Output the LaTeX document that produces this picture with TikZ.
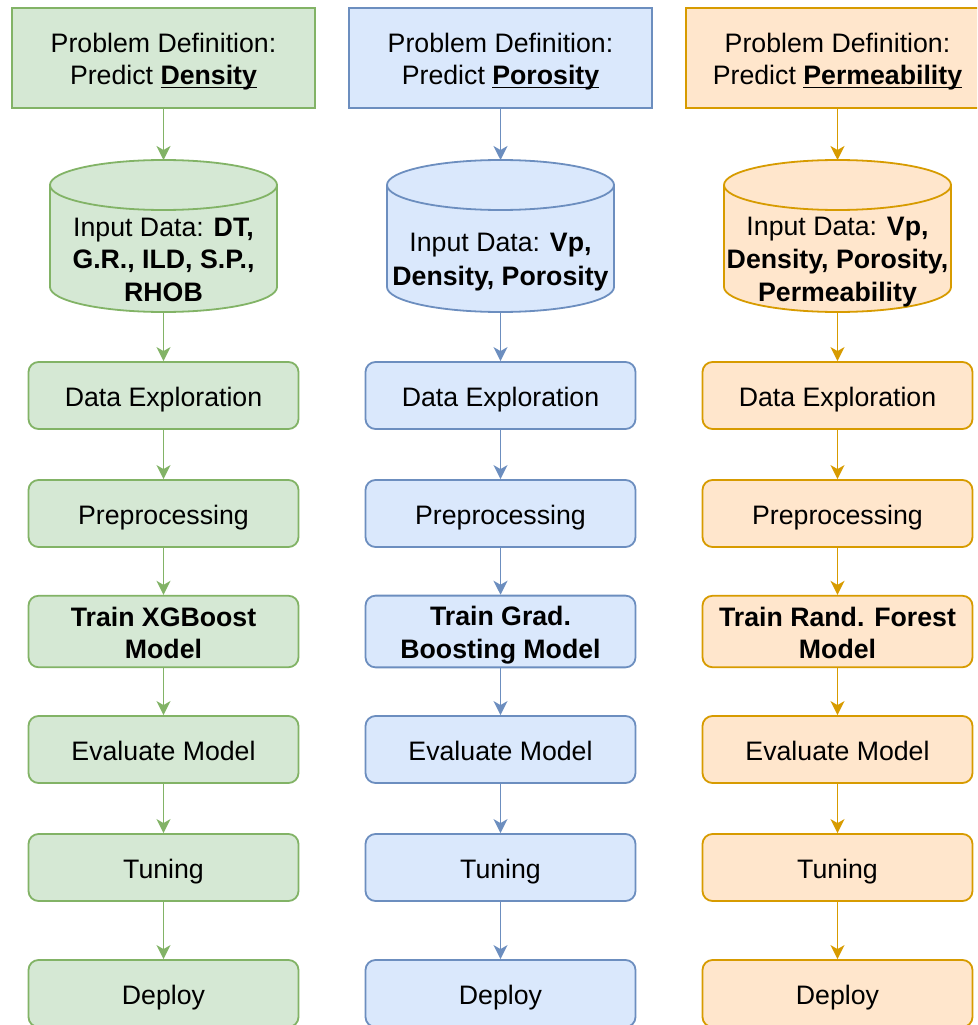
\documentclass[tikz,border=0pt]{standalone}
\usepackage{fontspec}
\setmainfont{Liberation Sans}
\usepackage{tikz}
\usetikzlibrary{arrows.meta, positioning}

\definecolor{densFill}{HTML}{D5E8D4}
\definecolor{densLine}{HTML}{82B366}
\definecolor{poroFill}{HTML}{DAE8FC}
\definecolor{poroLine}{HTML}{6C8EBF}
\definecolor{permFill}{HTML}{FFE6CC}
\definecolor{permLine}{HTML}{D79B00}

\newcommand{\undl}[1]{\setbox0\hbox{#1}\rlap{\rule[-3.5pt]{\wd0}{1.8pt}}\box0}
\newcommand{\lstrut}{\rule[-5.4pt]{0pt}{32.4pt}}

\tikzstyle{arrow} = [line width=1.8pt, -{Stealth[length=14pt, width=14pt, inset=4pt]}]
\tikzstyle{txt} = [align=center, font=\fontsize{26.7}{32.4}\selectfont, execute at begin node=\lstrut, execute at end node=\lstrut]
\tikzstyle{problem} = [txt, rectangle, minimum width=303pt, minimum height=100pt, line width=1.8pt]
\tikzstyle{database} = [rectangle, minimum width=227pt, minimum height=152pt, inner sep=0pt, outer sep=0pt]
\tikzstyle{drum} = [line width=1.8pt, x radius=113.5pt, y radius=25pt]
\tikzstyle{stepbox} = [txt, rectangle, rounded corners=10pt, minimum width=270pt, minimum height=67pt, line width=1.8pt]
\tikzstyle{dens} = [draw=densLine, fill=densFill]
\tikzstyle{poro} = [draw=poroLine, fill=poroFill]
\tikzstyle{perm} = [draw=permLine, fill=permFill]

\begin{document}
\begin{tikzpicture}[node distance=118pt]

\useasboundingbox (0,0) rectangle (977pt,-1025pt);
\clip (0,0) rectangle (977pt,-1025pt);

% Density column:
\node(densProb)[problem, dens] at (163.5pt,-58pt)
{\lstrut Problem Definition:\\Predict \undl{\textbf{Density}}\lstrut};
\node(densData)[database, below of=densProb, node distance=178pt] {};
\draw[drum, dens] ([yshift=-25pt]densData.north west) arc[start angle=180, end angle=0]
  -- ([yshift=25pt]densData.south east) arc[start angle=0, end angle=-180] -- cycle;
\draw[drum, densLine] ([yshift=-25pt]densData.north west) arc[start angle=180, end angle=360];
\node(densDataTxt)[txt] at ([yshift=-22pt]densData.center)
{\lstrut Input Data: \textbf{DT,}\\\textbf{G.R., ILD, S.P.,}\\\textbf{RHOB}\lstrut};
\node(densExplore)[stepbox, dens, below of=densData, node distance=159.5pt] {Data Exploration};
\node(densPrep)[stepbox, dens, below of=densExplore] {Preprocessing};
\node(densTrain)[stepbox, dens, below of=densPrep] {\lstrut\textbf{Train XGBoost}\\\textbf{Model}\lstrut};
\node(densEval)[stepbox, dens, below of=densTrain] {Evaluate Model};
\node(densTune)[stepbox, dens, below of=densEval] {Tuning};
\node(densDeploy)[stepbox, dens, below of=densTune, node distance=126pt] {Deploy};

% Porosity column:
\node(poroProb)[problem, poro, right of=densProb, node distance=337pt]
{\lstrut Problem Definition:\\Predict \undl{\textbf{Porosity}}\lstrut};
\node(poroData)[database, below of=poroProb, node distance=178pt] {};
\draw[drum, poro] ([yshift=-25pt]poroData.north west) arc[start angle=180, end angle=0]
  -- ([yshift=25pt]poroData.south east) arc[start angle=0, end angle=-180] -- cycle;
\draw[drum, poroLine] ([yshift=-25pt]poroData.north west) arc[start angle=180, end angle=360];
\node(poroDataTxt)[txt] at ([yshift=-22pt]poroData.center)
{\lstrut Input Data: \textbf{Vp,}\\\textbf{Density, Porosity}\lstrut};
\node(poroExplore)[stepbox, poro, below of=poroData, node distance=159.5pt] {Data Exploration};
\node(poroPrep)[stepbox, poro, below of=poroExplore] {Preprocessing};
\node(poroTrain)[stepbox, poro, below of=poroPrep] {\lstrut\textbf{Train Grad.}\\\textbf{Boosting Model}\lstrut};
\node(poroEval)[stepbox, poro, below of=poroTrain] {Evaluate Model};
\node(poroTune)[stepbox, poro, below of=poroEval] {Tuning};
\node(poroDeploy)[stepbox, poro, below of=poroTune, node distance=126pt] {Deploy};

% Permeability column:
\node(permProb)[problem, perm, right of=poroProb, node distance=337pt]
{\lstrut Problem Definition:\\Predict \undl{\textbf{Permeability}}\lstrut};
\node(permData)[database, below of=permProb, node distance=178pt] {};
\draw[drum, perm] ([yshift=-25pt]permData.north west) arc[start angle=180, end angle=0]
  -- ([yshift=25pt]permData.south east) arc[start angle=0, end angle=-180] -- cycle;
\draw[drum, permLine] ([yshift=-25pt]permData.north west) arc[start angle=180, end angle=360];
\node(permDataTxt)[txt] at ([yshift=-22pt]permData.center)
{\lstrut Input Data: \textbf{Vp,}\\\textbf{Density, Porosity,}\\\textbf{Permeability}\lstrut};
\node(permExplore)[stepbox, perm, below of=permData, node distance=159.5pt] {Data Exploration};
\node(permPrep)[stepbox, perm, below of=permExplore] {Preprocessing};
\node(permTrain)[stepbox, perm, below of=permPrep] {\lstrut\textbf{Train Rand. Forest}\\\textbf{Model}\lstrut};
\node(permEval)[stepbox, perm, below of=permTrain] {Evaluate Model};
\node(permTune)[stepbox, perm, below of=permEval] {Tuning};
\node(permDeploy)[stepbox, perm, below of=permTune, node distance=126pt] {Deploy};

% arrows
\draw[arrow, densLine] (densProb) -- (densData);
\draw[arrow, densLine] (densData) -- (densExplore);
\draw[arrow, densLine] (densExplore) -- (densPrep);
\draw[arrow, densLine] (densPrep) -- (densTrain);
\draw[arrow, densLine] (densTrain) -- (densEval);
\draw[arrow, densLine] (densEval) -- (densTune);
\draw[arrow, densLine] (densTune) -- (densDeploy);

\draw[arrow, poroLine] (poroProb) -- (poroData);
\draw[arrow, poroLine] (poroData) -- (poroExplore);
\draw[arrow, poroLine] (poroExplore) -- (poroPrep);
\draw[arrow, poroLine] (poroPrep) -- (poroTrain);
\draw[arrow, poroLine] (poroTrain) -- (poroEval);
\draw[arrow, poroLine] (poroEval) -- (poroTune);
\draw[arrow, poroLine] (poroTune) -- (poroDeploy);

\draw[arrow, permLine] (permProb) -- (permData);
\draw[arrow, permLine] (permData) -- (permExplore);
\draw[arrow, permLine] (permExplore) -- (permPrep);
\draw[arrow, permLine] (permPrep) -- (permTrain);
\draw[arrow, permLine] (permTrain) -- (permEval);
\draw[arrow, permLine] (permEval) -- (permTune);
\draw[arrow, permLine] (permTune) -- (permDeploy);

\end{tikzpicture}
\end{document}
